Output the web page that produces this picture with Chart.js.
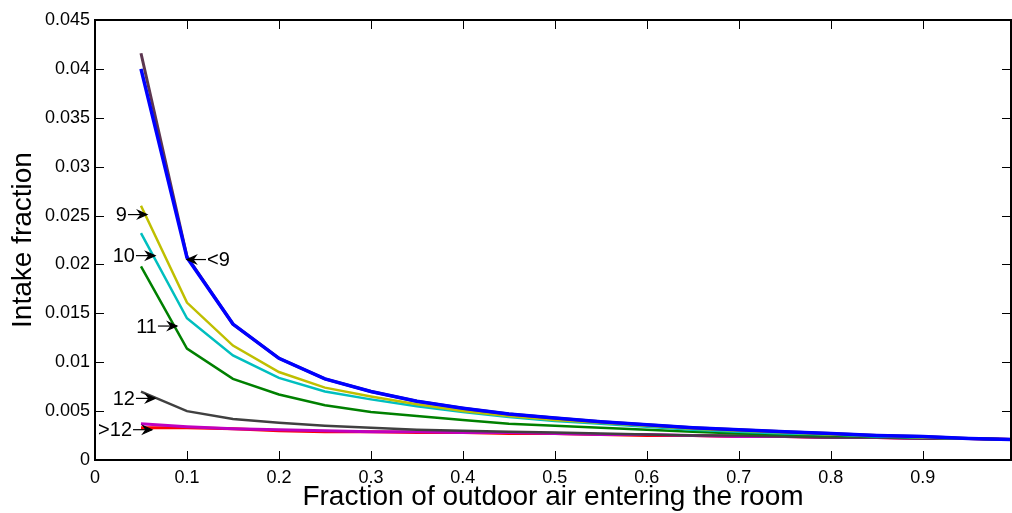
<!DOCTYPE html>
<html>
<head>
<meta charset="utf-8">
<script src="https://cdn.jsdelivr.net/npm/chart.js@4.4.0/dist/chart.umd.min.js"></script>
<style>
  html, body { margin: 0; padding: 0; background: #fff; }
  #wrap { width: 1012px; height: 513px; }
</style>
</head>
<body>
<div id="wrap"><canvas id="lineChart"></canvas></div>
<script>
const outdoorFraction = [0.05, 0.10, 0.15, 0.20, 0.25, 0.30, 0.35, 0.40, 0.45, 0.50,
                         0.55, 0.60, 0.65, 0.70, 0.75, 0.80, 0.85, 0.90, 0.95, 1.00];

const below9Blue = [0.0400, 0.0207, 0.0139, 0.0104, 0.0083, 0.0070, 0.0060, 0.0053, 0.0047, 0.0043,
                    0.0039, 0.0036, 0.0033, 0.0031, 0.0029, 0.0027, 0.0025, 0.0024, 0.0022, 0.0021];
const below9Dark = [0.0416, 0.0208, 0.0139, 0.0104, 0.0083, 0.0070, 0.0060, 0.0053, 0.0047, 0.0043,
                    0.0039, 0.0036, 0.0033, 0.0031, 0.0029, 0.0027, 0.0025, 0.0024, 0.0022, 0.0021];
const hour9 = [0.0260, 0.0161, 0.0117, 0.0090, 0.0074, 0.0065, 0.0057, 0.0050, 0.0045, 0.0041,
               0.0038, 0.0035, 0.0032, 0.0030, 0.0028, 0.0026, 0.0025, 0.0023, 0.0022, 0.0021];
const hour10 = [0.0232, 0.0145, 0.0107, 0.0084, 0.0070, 0.0062, 0.0055, 0.0049, 0.0044, 0.0040,
                0.0037, 0.0034, 0.0031, 0.0029, 0.0027, 0.0026, 0.0024, 0.0023, 0.0022, 0.0021];
const hour11 = [0.0198, 0.0114, 0.0083, 0.0067, 0.0056, 0.0049, 0.0045, 0.0041, 0.0037, 0.0035,
                0.0033, 0.0031, 0.0029, 0.0027, 0.0026, 0.0025, 0.0024, 0.0023, 0.0022, 0.0021];
const hour12 = [0.0070, 0.0050, 0.0042, 0.0038, 0.0035, 0.0033, 0.0031, 0.0030, 0.0029, 0.0028,
                0.0027, 0.0026, 0.0025, 0.0025, 0.0024, 0.0023, 0.0023, 0.0022, 0.0022, 0.0021];
const above12Magenta = [0.0037, 0.0034, 0.0032, 0.0031, 0.0030, 0.0029, 0.0029, 0.0028, 0.0028, 0.0027,
                        0.0026, 0.0026, 0.0025, 0.0024, 0.0024, 0.0023, 0.0023, 0.0022, 0.0022, 0.0021];
const above12Red = [0.0033, 0.0033, 0.0032, 0.0030, 0.0029, 0.0029, 0.0028, 0.0028, 0.0027, 0.0027,
                    0.0026, 0.0025, 0.0025, 0.0024, 0.0024, 0.0023, 0.0023, 0.0022, 0.0022, 0.0021];

const xTicks = [0, 0.1, 0.2, 0.3, 0.4, 0.5, 0.6, 0.7, 0.8, 0.9];
const yTicks = [0, 0.005, 0.01, 0.015, 0.02, 0.025, 0.03, 0.035, 0.04, 0.045];

// labels with arrows: tip of arrow in data units
const notes = [
  { text: '9',   x: 0.0565, y: 0.0251, side: 'left' },
  { text: '10',  x: 0.0652, y: 0.0209, side: 'left' },
  { text: '<9',  x: 0.1000, y: 0.0205, side: 'right' },
  { text: '11',  x: 0.0891, y: 0.0137, side: 'left' },
  { text: '12',  x: 0.0652, y: 0.0063, side: 'left' },
  { text: '>12', x: 0.0620, y: 0.0031, side: 'left' }
];

const pts = arr => arr.map((v, i) => ({ x: outdoorFraction[i], y: v }));

function line(values, color, width) {
  return {
    data: pts(values),
    borderColor: color,
    backgroundColor: color,
    borderWidth: width,
    pointRadius: 0,
    tension: 0,
    fill: false
  };
}

const FONT = '"Liberation Sans", Arial, sans-serif';

const boxPlugin = {
  id: 'box',
  afterDatasetsDraw(chart) {
    const { ctx, chartArea: a, scales: { x, y } } = chart;
    ctx.save();
    ctx.strokeStyle = '#000';
    ctx.lineWidth = 1;
    ctx.beginPath();
    xTicks.forEach(v => {
      const px = Math.round(x.getPixelForValue(v)) + 0.5;
      ctx.moveTo(px, a.bottom); ctx.lineTo(px, a.bottom - 9);
      ctx.moveTo(px, a.top); ctx.lineTo(px, a.top + 9);
    });
    yTicks.forEach(v => {
      const py = Math.round(y.getPixelForValue(v)) + 0.5;
      ctx.moveTo(a.left, py); ctx.lineTo(a.left + 9, py);
      ctx.moveTo(a.right, py); ctx.lineTo(a.right - 9, py);
    });
    ctx.stroke();
    ctx.lineWidth = 2;
    ctx.strokeRect(a.left, a.top, a.right - a.left, a.bottom - a.top);

    // annotations
    ctx.font = '20px ' + FONT;
    ctx.fillStyle = '#000';
    ctx.textBaseline = 'middle';
    ctx.lineWidth = 1.2;
    notes.forEach(n => {
      const tx = x.getPixelForValue(n.x);
      const ty = y.getPixelForValue(n.y);
      const dir = n.side === 'left' ? -1 : 1;
      const sx = tx + dir * 19;
      ctx.beginPath();
      ctx.moveTo(sx, ty); ctx.lineTo(tx, ty);
      ctx.stroke();
      ctx.beginPath();
      ctx.moveTo(tx, ty);
      ctx.lineTo(tx + dir * 9, ty - 4);
      ctx.lineTo(tx + dir * 6, ty);
      ctx.lineTo(tx + dir * 9, ty + 4);
      ctx.closePath();
      ctx.fill();
      ctx.stroke();
      ctx.textAlign = n.side === 'left' ? 'right' : 'left';
      ctx.fillText(n.text, sx + dir * 1, ty + 1);
    });
    ctx.restore();
  }
};

const ctx = document.getElementById('lineChart');

new Chart(ctx, {
  type: 'line',
  data: {
    datasets: [
      line(below9Blue, '#0000ff', 3.5),
      line(below9Dark, '#5c3650', 3),
      line(hour9, '#bfbf00', 2.5),
      line(hour10, '#00bfbf', 2.5),
      line(hour11, '#008000', 2.5),
      line(hour12, '#404040', 2.5),
      line(above12Magenta, '#bf00bf', 3),
      line(above12Red, '#ff0000', 3)
    ]
  },
  options: {
    responsive: true,
    maintainAspectRatio: false,
    animation: false,
    events: [],
    layout: { padding: { top: 20, right: 1, left: 0, bottom: 0 } },
    plugins: {
      legend: { display: false },
      tooltip: { enabled: false }
    },
    scales: {
      x: {
        type: 'linear',
        min: 0,
        max: 0.996,
        grid: { display: false, drawTicks: false },
        border: { display: false },
        afterBuildTicks: s => { s.ticks = xTicks.map(v => ({ value: v })); },
        afterFit: s => { s.height = 53; },
        ticks: {
          padding: 7,
          color: '#000',
          font: { family: FONT, size: 18 },
          callback: v => String(v)
        },
        title: {
          display: true,
          text: 'Fraction of outdoor air entering the room',
          color: '#000',
          font: { family: FONT, size: 28, lineHeight: 1 },
          padding: { top: 0, bottom: 2 }
        }
      },
      y: {
        min: 0,
        max: 0.045,
        grid: { display: false, drawTicks: false },
        border: { display: false },
        afterBuildTicks: s => { s.ticks = yTicks.map(v => ({ value: v })); },
        afterFit: s => { s.width = 95; },
        ticks: {
          padding: 5,
          color: '#000',
          font: { family: FONT, size: 18 },
          callback: v => String(v)
        },
        title: {
          display: true,
          text: 'Intake fraction',
          color: '#000',
          font: { family: FONT, size: 28, lineHeight: 1 },
          padding: { top: 9, bottom: 0 }
        }
      }
    }
  },
  plugins: [boxPlugin]
});
</script>
</body>
</html>
